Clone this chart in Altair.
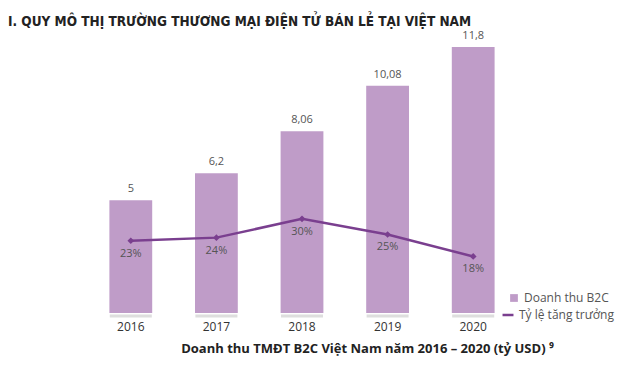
import altair as alt
import pandas as pd

years = ["2016", "2017", "2018", "2019", "2020"]
revenue = [5, 6.2, 8.06, 10.08, 11.8]
growth = [23, 24, 30, 25, 18]

df = pd.DataFrame({
    "year": years,
    "revenue": revenue,
    "growth": growth,
    "s1": ["Doanh thu B2C"] * 5,
    "s2": ["Tỷ lệ tăng trưởng"] * 5,
})

BAR = "#bf9cc8"
LINE = "#7a3f8f"
TXT = "#555555"
FONT = "Open Sans"

xenc = alt.X(
    "year:N",
    sort=years,
    scale=alt.Scale(paddingInner=0.5, paddingOuter=0.25),
    axis=alt.Axis(
        title="Doanh thu TMĐT B2C Việt Nam năm 2016 – 2020 (tỷ USD) ⁹",
        titleFont=FONT, titleFontSize=13, titleFontWeight="bold", titleColor="#222222",
        titleX=279, titleAlign="center", titlePadding=10,
        labelFont=FONT, labelFontSize=12, labelColor="#333333", labelAngle=0,
        labelPadding=8, ticks=False, domain=False, grid=False,
    ),
)

yrev = alt.Y("revenue:Q", scale=alt.Scale(domain=[0, 11.8], nice=False, zero=True), axis=None)
ygr = alt.Y("growth:Q", scale=alt.Scale(domain=[0, 84.7], nice=False, zero=True), axis=None)

base = alt.Chart(df)

bars = base.mark_bar(color=BAR).encode(
    x=xenc,
    y=yrev,
    color=alt.Color("s1:N", scale=alt.Scale(range=[BAR]),
                    legend=alt.Legend(title=None, orient="none", legendX=420, legendY=245,
                                      symbolType="square", symbolSize=60, labelFont=FONT,
                                      labelFontSize=12, labelColor=TXT, symbolStrokeWidth=0)),
)

base_ticks = base.mark_tick(color="#d0d0d0", thickness=3, size=42, yOffset=3).encode(
    x=alt.X("year:N", sort=years), y=alt.Y("zero:Q", scale=alt.Scale(domain=[0, 11.8], nice=False), axis=None)
).transform_calculate(zero="0")

bar_labels = base.mark_text(font=FONT, fontSize=11, color=TXT, dy=-11).encode(
    x=alt.X("year:N", sort=years),
    y=yrev,
    text="lab:N",
).transform_calculate(lab="replace(toString(datum.revenue), '.', ',')")

bar_layer = alt.layer(bars, base_ticks, bar_labels)

line = base.mark_line(strokeWidth=2.5).encode(
    x=alt.X("year:N", sort=years),
    y=ygr,
    stroke=alt.Stroke("s2:N", scale=alt.Scale(range=[LINE]),
                      legend=alt.Legend(title=None, orient="none", legendX=413, legendY=261,
                                        symbolType="stroke", symbolSize=120, symbolStrokeWidth=2.5,
                                        labelFont=FONT, labelFontSize=12, labelColor=TXT)),
)

pts = base.mark_point(shape="diamond", filled=True, size=45, color=LINE, opacity=1).encode(
    x=alt.X("year:N", sort=years),
    y=ygr,
)

line_labels = base.mark_text(font=FONT, fontSize=11, color=TXT, dy=13).encode(
    x=alt.X("year:N", sort=years),
    y=ygr,
    text="lab:N",
).transform_calculate(lab="datum.growth + '%'")

line_layer = alt.layer(line, pts, line_labels)

chart = alt.layer(bar_layer, line_layer).resolve_scale(
    y="independent", color="independent", stroke="independent"
).properties(
    width=428,
    height=266,
    autosize=alt.AutoSizeParams(type="none"),
    padding={"left": 80, "top": 39, "right": 116, "bottom": 46},
    title=alt.Title(
        "I. QUY MÔ THỊ TRƯỜNG THƯƠNG MẠI ĐIỆN TỬ BÁN LẺ TẠI VIỆT NAM",
        anchor="start", frame="group", dx=-80, font="DejaVu Sans Condensed, Roboto, sans-serif",
        fontSize=13.5, fontWeight="bold", color="#222222", baseline="top", dy=2,
    ),
).configure_view(stroke=None).configure_title(offset=0)

chart.save("out.html", embed_options={"renderer": "svg", "actions": False})
